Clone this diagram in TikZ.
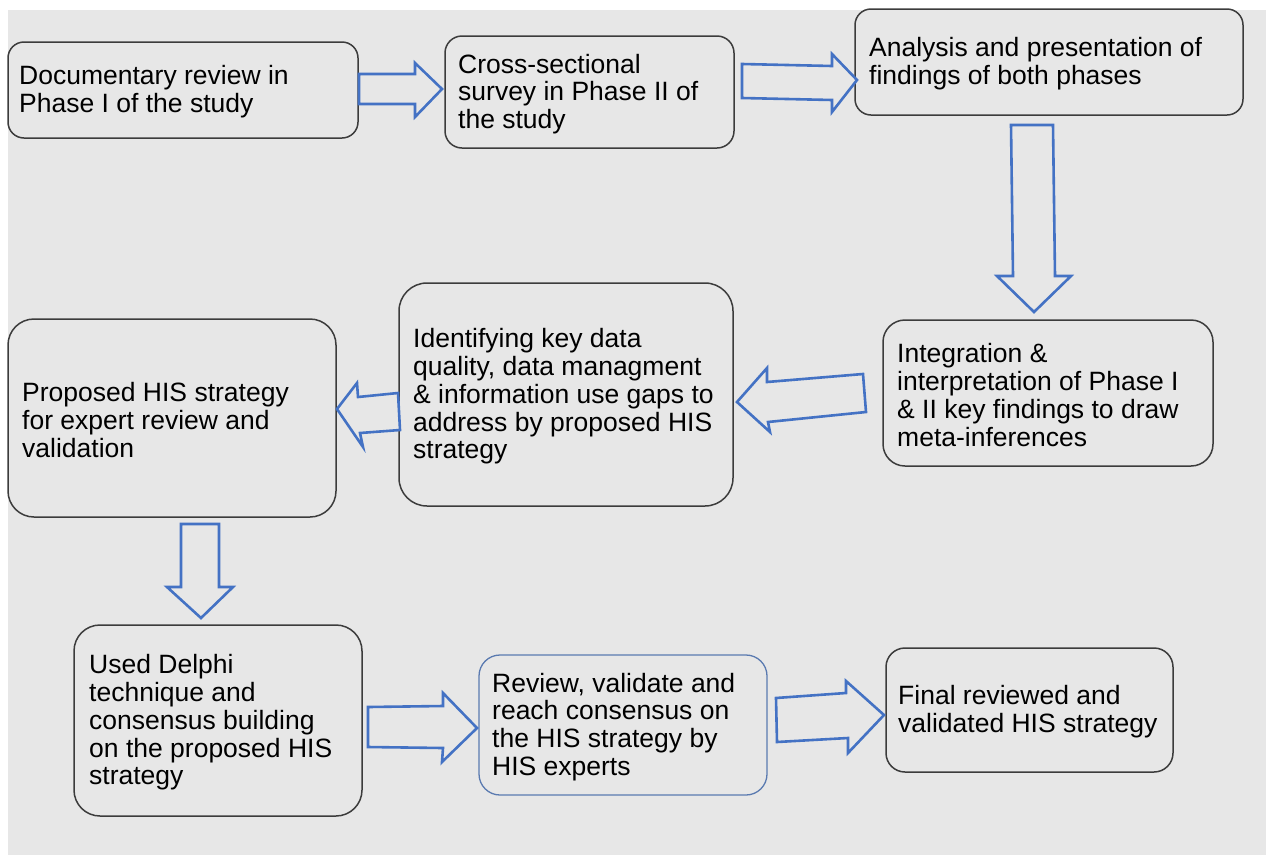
\documentclass[tikz,border=0pt]{standalone}
\usepackage{fontspec}
\setmainfont{Liberation Sans}
\definecolor{panel}{HTML}{E7E7E7}
\definecolor{edge}{HTML}{3C3C3C}
\definecolor{flow}{HTML}{4472C4}
\definecolor{blueedge}{HTML}{5A7AB0}
\tikzset{
  stepbox/.style={draw=edge, line width=1.5pt, fill=panel, inner sep=0pt},
  bluebox/.style={draw=blueedge, line width=1.3pt, fill=panel, inner sep=0pt},
  txt/.style={inner sep=0pt, align=left, anchor=west,
    font=\fontsize{26.5}{27.8}\selectfont},
  blockarrow/.style={draw=flow, line width=2.6pt, fill=panel, line join=miter}
}
% #1 name, #2 x1, #3 y1, #4 x2, #5 y2, #6 text inset, #7 style, #8 corner radius, #9 text
\newcommand\flowbox[9]{%
  \node[#7, minimum width={#4-#2}, minimum height={#5-#3}, rounded corners=#8pt]
    (#1) at ({(#2+#4)/2},{(#3+#5)/2}) {};
  \node[txt] (#1-t) at ({#2+#6+2},{(#3+#5)/2+2}) {#9};
}
\begin{document}
\begin{tikzpicture}[x=1pt,y=-1pt]
\useasboundingbox (0,0) rectangle (1266,855);
\fill[white] (0,0) rectangle (1266,855);
\fill[panel] (8,10) rectangle (1266,855);

% process steps
\flowbox{doc}{8}{42}{358}{138}{9}{stepbox}{16}{Documentary review in\\Phase I of the study}
\flowbox{survey}{445}{36}{734}{148}{11}{stepbox}{17}{Cross-sectional\\survey in Phase II of\\the study}
\flowbox{analysis}{855}{9}{1243}{115}{12}{stepbox}{16}{Analysis and presentation of\\findings of both phases}
\flowbox{integ}{883}{320}{1213}{466}{12}{stepbox}{22}{Integration \&\\interpretation of Phase I\\\& II key findings to draw\\meta-inferences}
\flowbox{gaps}{399}{283}{733}{506}{12}{stepbox}{28}{Identifying key data\\quality, data managment\\\& information use gaps to\\address by proposed HIS\\strategy}
\flowbox{proposed}{8}{319}{336}{517}{12}{stepbox}{26}{Proposed HIS strategy\\for expert review and\\validation}
\flowbox{delphi}{74}{625}{362}{816}{13}{stepbox}{26}{Used Delphi\\technique and\\consensus building\\on the proposed HIS\\strategy}
\flowbox{review}{479}{655}{767}{795}{11}{bluebox}{21}{Review, validate and\\reach consensus on\\the HIS strategy by\\HIS experts}
\flowbox{final}{886}{648}{1173}{772}{10}{stepbox}{19}{Final reviewed and\\validated HIS strategy}

% block arrows between the steps
\draw[blockarrow] (359,74) -- (415,74) -- (415,63) -- (442,89) -- (415,117) -- (415,104) -- (359,104) -- cycle;
\draw[blockarrow] (742,64) -- (832,66) -- (832,54) -- (857,80) -- (832,112) -- (832,100) -- (742,98) -- cycle;
\draw[blockarrow] (1011,125) -- (1053,125) -- (1055,276) -- (1071,276) -- (1034,312) -- (997,276) -- (1013,276) -- cycle;
\draw[blockarrow] (863,374) -- (767,382) -- (767,368) -- (737,402) -- (770,432) -- (768,422) -- (866,412) -- cycle;
\draw[blockarrow] (398,393) -- (358,397) -- (357,383) -- (337,409) -- (363,447) -- (360,433) -- (400,430) -- cycle;
\draw[blockarrow] (181,524) -- (219,524) -- (219,587) -- (233,587) -- (201,618) -- (167,587) -- (181,587) -- cycle;
\draw[blockarrow] (368,707) -- (443,706) -- (443,693) -- (477,728) -- (442,762) -- (443,748) -- (368,747) -- cycle;
\draw[blockarrow] (776,698) -- (846,693) -- (846,681) -- (884,715) -- (848,753) -- (848,738) -- (777,742) -- cycle;
\end{tikzpicture}
\end{document}
